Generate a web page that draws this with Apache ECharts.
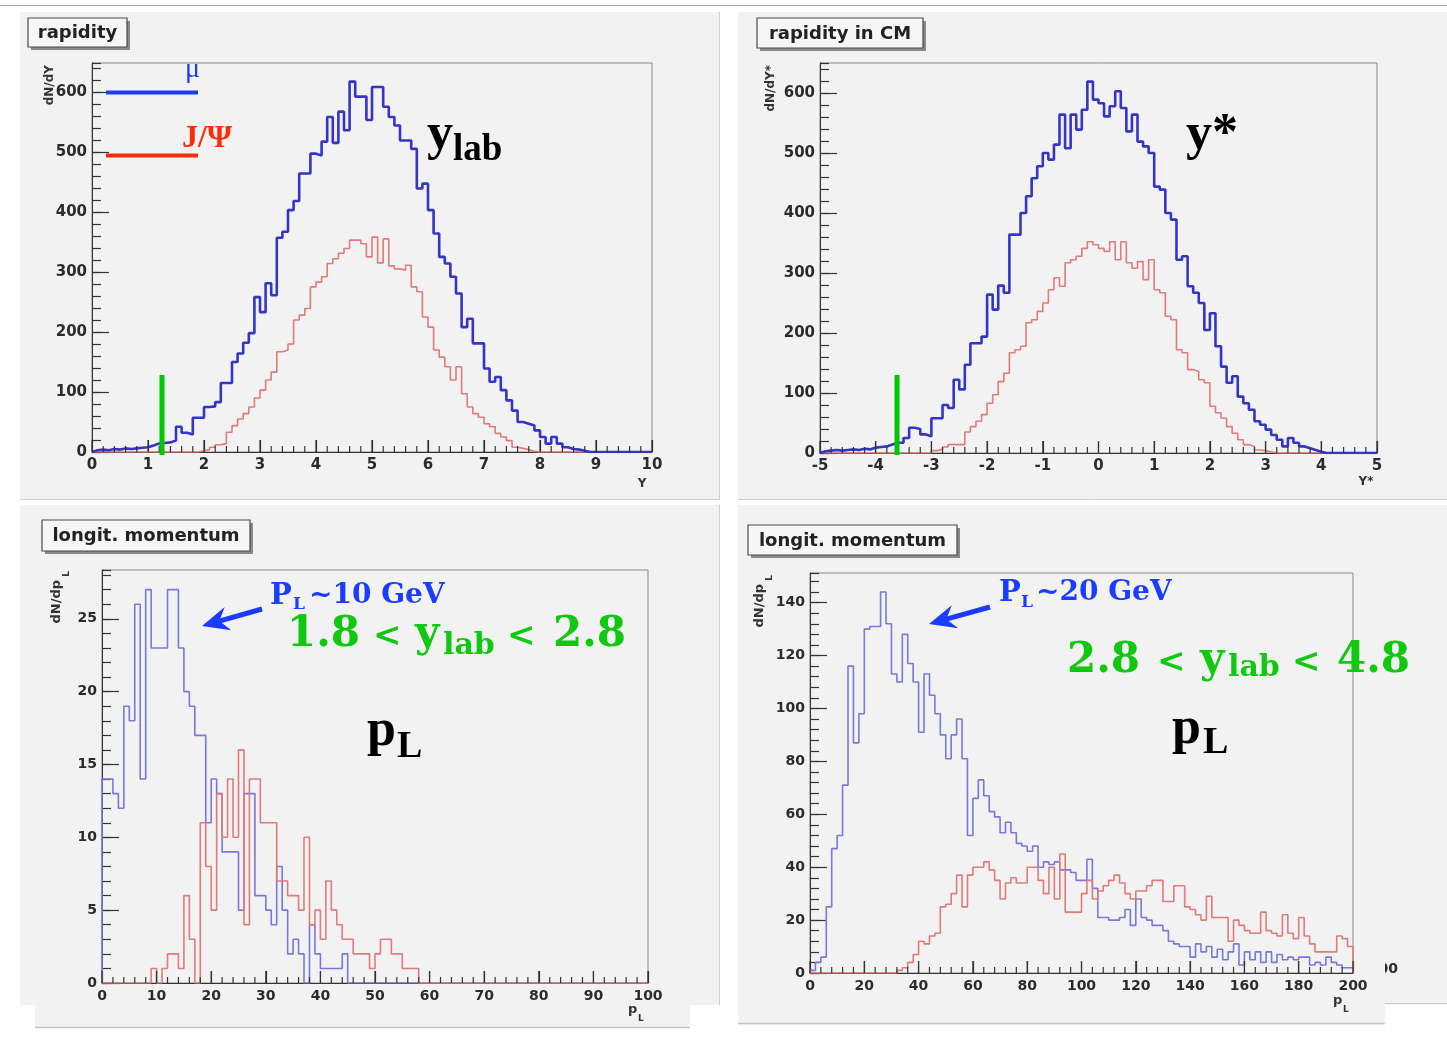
<!DOCTYPE html>
<html><head><meta charset="utf-8">
<script src="https://cdn.jsdelivr.net/npm/echarts@6/dist/echarts.min.js"></script>
<style>html,body{margin:0;padding:0;background:#fff;}#c{width:1447px;height:1041px;}</style>
</head><body><div id="c"></div>
<script>
// ---------------- DATA (bin contents) ----------------
// rapidity in lab, 100 bins of 0.1 from 0 to 10
const ylabBinStart = 0, ylabBinWidth = 0.1;
const ylabMu = [3,4,3,5,4,6,5,6,7,8, 11,14,15,16,19,42,32,29,57,57, 75,76,83,115,115,150,164,182,198,258,
  233,281,261,357,367,403,418,464,464,497, 494,517,558,515,567,536,617,592,592,553,
  608,608,575,558,544,519,519,505,439,447, 403,364,325,314,292,264,208,222,181,181,
  139,117,125,103,86,69,50,47,44,36, 25,14,25,14,8,5,4,2,0,0, 0,0,0,0,0,0,0,0,0,0];
const ylabJpsi = [0,0,0,0,0,0,0,0,0,0, 0,0,0,0,0,0,0,0,0,2, 4,8,12,14,33,44,55,64,75,90,
  103,120,133,167,170,180,220,228,239,275, 283,292,314,322,331,339,353,353,347,325,
  358,315,355,310,305,303,311,275,267,225, 208,170,158,142,120,142,97,75,64,58,
  47,42,31,25,19,8,6,4,1,0, 0,0,0,0,0,0,0,0,0,0, 0,0,0,0,0,0,0,0,0,0];
// rapidity in CM, 100 bins of 0.1 from -5 to 5
const ycmBinStart = -5, ycmBinWidth = 0.1;
const ycmMu = [3,4,5,4,5,6,5,7,6,9, 10,11,14,17,17,25,42,40,31,28, 58,58,80,75,122,106,147,183,183,194,
  264,239,279,267,364,364,400,428,458,478, 500,489,514,564,508,564,539,572,619,589,
  583,561,578,603,575,536,564,519,511,500, 444,439,400,389,322,328,278,267,250,205,
  233,178,144,117,128,94,83,72,53,47, 39,30,22,11,25,17,11,8,5,2, 0,0,0,0,0,0,0,0,0,0];
const ycmJpsi = [0,0,0,0,0,0,0,0,0,0, 0,0,0,0,0,0,0,0,0,0, 4,6,10,14,14,14,35,44,53,64,
  83,97,119,133,167,172,178,217,222,236, 250,272,292,278,317,322,328,341,352,347,
  341,336,352,322,352,317,308,319,289,322, 272,267,228,222,172,167,139,136,122,117,
  78,67,58,44,33,22,14,11,5,4, 2,0,0,0,0,0,0,0,0,0, 0,0,0,0,0,0,0,0,0,0];
// longitudinal momentum, 1.8 < ylab < 2.8 : 100 bins of 1 from 0 to 100
const pl1BinStart = 0, pl1BinWidth = 1;
const pl1Mu = [14,14,13,12,19,18,26,14,27,23, 23,23,27,27,23,20,19,17,17,11, 14,13,9,9,9,5,13,13,6,6,
  5,4,8,5,2,3,2,0,4,2, 1,1,1,1,2,0,0,0,0,0, 0,0,0,0,0,0,0,0,0,0,
  0,0,0,0,0,0,0,0,0,0, 0,0,0,0,0,0,0,0,0,0, 0,0,0,0,0,0,0,0,0,0, 0,0,0,0,0,0,0,0,0,0];
const pl1Jpsi = [0,0,0,0,0,0,0,0,0,1, 0,1,2,2,1,6,3,0,11,8, 5,13,10,14,10,16,4,14,14,11,
  11,11,7,7,6,6,5,10,4,5, 3,7,5,4,3,3,2,2,2,1, 2,3,3,2,2,1,1,1,0,0,
  0,0,0,0,0,0,0,0,0,0, 0,0,0,0,0,0,0,0,0,0, 0,0,0,0,0,0,0,0,0,0, 0,0,0,0,0,0,0,0,0,0];
// longitudinal momentum, 2.8 < ylab < 4.8 : 100 bins of 2 from 0 to 200
const pl2BinStart = 0, pl2BinWidth = 2;
const pl2Mu = [1,4,6,25,47,52,71,116,87,98, 130,131,131,144,132,113,110,128,117,110,
  91,113,105,98,90,81,90,96,81,52, 66,73,67,61,59,53,57,53,49,48,
  46,48,40,42,41,42,39,39,38,35, 35,43,32,21,21,20,20,21,24,18,
  28,21,20,18,18,16,12,11,10,10, 6,11,8,10,6,9,5,8,11,3,
  8,5,8,4,8,4,7,5,6,5, 6,6,3,4,3,6,4,3,2,2];
const pl2Jpsi = [0,0,0,0,0,0,0,0,0,0, 0,0,0,0,0,0,1,2,4,7, 12,11,14,15,25,26,30,37,25,37,
  40,40,42,39,35,28,34,36,34,34, 40,40,35,30,40,28,45,23,23,23,
  30,35,28,31,33,35,37,34,30,28, 31,31,33,35,35,27,27,33,33,25,
  24,22,20,29,21,21,21,12,20,18, 16,15,15,23,16,15,14,22,15,13,
  21,14,11,8,8,8,8,14,13,10];

// panel titles
const panelTitles = ['rapidity', 'rapidity in CM', 'longit. momentum', 'longit. momentum'];

// ---------------- helpers ----------------
const SERIF = '"Liberation Serif", "Times New Roman", serif';
const DSERIF = '"DejaVu Serif", serif';
const SANS = '"DejaVu Sans", sans-serif';
const AX = '#333';
const RED = '#e27a7a', BLUE_D = '#3434c8', BLUE_L = '#7878dc';
const BLUE_T = '#1a3cff', GREEN_T = '#10c810', RED_T = '#ff2a0a';

function hist(vals, start, width) {
  const d = [[start, 0]];
  for (let i = 0; i < vals.length; i++) d.push([start + i * width, vals[i]]);
  const end = start + vals.length * width;
  d.push([end, vals[vals.length - 1]]);
  d.push([end, 0]);
  return d;
}
function xMajor(g, min, max, interval, fs) {
  return {type:'value', gridIndex:g, min, max, interval, z:20, position:'bottom',
    axisLine:{show:true, onZero:false, lineStyle:{color:AX, width:1}},
    axisTick:{show:true, inside:true, length:12, lineStyle:{color:'#333', width:1.2}},
    axisLabel:{show:true, margin:6, color:'#2b2b2b', fontFamily:SANS, fontWeight:'bold', fontSize:fs, showMinLabel:true, showMaxLabel:true},
    splitLine:{show:false}};
}
function yMajor(g, max, interval, fs) {
  return {type:'value', gridIndex:g, min:0, max, interval, z:20, position:'left',
    axisLine:{show:true, onZero:false, lineStyle:{color:AX, width:1}},
    axisTick:{show:true, inside:true, length:17, lineStyle:{color:'#333', width:1.2}},
    axisLabel:{show:true, margin:5, color:'#2b2b2b', fontFamily:SANS, fontWeight:'bold', fontSize:fs, showMaxLabel:false,
      formatter: v => (Math.abs(v / interval - Math.round(v / interval)) < 1e-6 ? String(Math.round(v)) : '')},
    splitLine:{show:false}};
}
function yMinor(g, max, interval) {
  return {type:'value', gridIndex:g, min:0, max, interval, z:20, position:'left', offset:0,
    axisLine:{show:false, onZero:false},
    axisTick:{show:true, inside:true, length:9, lineStyle:{color:'#333', width:1.2}},
    axisLabel:{show:false}, splitLine:{show:false}};
}
// x-axis tick marks (major + minor) placed through the axis scale by a custom series
function xTickSeries(xi, yi, min, max, interval, sub) {
  const data = [];
  const n = Math.round((max - min) / interval) * sub;
  for (let i = 0; i <= n; i++) data.push([min + i * interval / sub, i % sub === 0 ? 1 : 0]);
  return {type:'custom', xAxisIndex:xi, yAxisIndex:yi, silent:true, clip:false, z:40, data,
    renderItem: (params, api) => {
      const p = api.coord([api.value(0), 0]);
      const len = api.value(1) ? 12 : 6;
      return {type:'line', shape:{x1:p[0], y1:p[1], x2:p[0], y2:p[1] - len}, style:{stroke:'#333', lineWidth:1.2}};
    }};
}
function ser(xi, yi, vals, start, width, color, lw, z) {
  return {type:'line', xAxisIndex:xi, yAxisIndex:yi, step:'end', data:hist(vals, start, width),
    symbol:'none', silent:true, clip:true, z, lineStyle:{color, width:lw}};
}
function rect(x, y, w, h, fill, z, stroke, lw) {
  return {type:'rect', z, silent:true, shape:{x, y, width:w, height:h},
    style:{fill, stroke: stroke || null, lineWidth: lw || 0}};
}
function line(x1, y1, x2, y2, stroke, lw, z) {
  return {type:'line', z, silent:true, shape:{x1, y1, x2, y2}, style:{stroke, lineWidth:lw}};
}
function txt(text, x, y, font, fill, align, z, rot, va) {
  return {type:'text', z, silent:true, x, y, rotation: rot || 0,
    style:{text, font, fill, align: align || 'left', verticalAlign: va || 'middle'}};
}
function titleBox(label, x, y, w, h) {
  return [
    rect(x + 3, y + 3, w, h, '#8a8a8a', 25),
    rect(x, y, w, h, '#f6f6f6', 26, '#4a4a4a', 1.2),
    txt(label, x + w / 2, y + h / 2 + 1, 'bold 18px ' + SANS, '#222', 'center', 27)
  ];
}
function arrow(tail, tip, z) {
  const dx = tip[0] - tail[0], dy = tip[1] - tail[1], L = Math.hypot(dx, dy);
  const ux = dx / L, uy = dy / L, px = -uy, py = ux;
  const hl = 27, hw = 12, notch = 9;
  const bx = tip[0] - ux * hl, by = tip[1] - uy * hl;
  const ix = tip[0] - ux * (hl - notch), iy = tip[1] - uy * (hl - notch);
  return [
    line(tail[0], tail[1], ix, iy, BLUE_T, 5, z),
    {type:'polygon', z, silent:true, shape:{points:[tip, [bx + px * hw, by + py * hw], [ix, iy], [bx - px * hw, by - py * hw]]}, style:{fill:BLUE_T}}
  ];
}

// ---------------- graphics ----------------
const PANEL = '#f2f2f2';
const g = [];
g.push(line(0, 5.5, 1447, 5.5, '#a8a8a8', 1, 1));
// panels
g.push(rect(20, 12, 700, 488, PANEL, 1));
g.push(line(719.5, 12, 719.5, 500, '#cfcfcf', 1, 2), line(20, 499.5, 720, 499.5, '#cfcfcf', 1, 2));
g.push(rect(738, 12, 709, 488, PANEL, 1));
g.push(line(738, 499.5, 1447, 499.5, '#cfcfcf', 1, 2));
g.push(rect(20, 505, 700, 500, PANEL, 1));
g.push(line(719.5, 505, 719.5, 1005, '#cfcfcf', 1, 2));
g.push(rect(35, 514, 655, 514, PANEL, 3));
g.push(line(35, 1027.5, 690, 1027.5, '#c4c4c4', 1.5, 3));
g.push(rect(738, 505, 709, 500, PANEL, 1));
g.push(line(738, 1003.5, 1447, 1003.5, '#cfcfcf', 1, 2));
g.push(txt('200', 1398, 969, 'bold 14px ' + SANS, '#2b2b2b', 'right', 2));
g.push(rect(738, 520, 647, 505, PANEL, 3));
g.push(line(738, 1023.5, 1385, 1023.5, '#c4c4c4', 1.5, 3));
// title boxes
g.push(...titleBox(panelTitles[0], 28, 18, 99, 29));
g.push(...titleBox(panelTitles[1], 757, 18, 166, 30));
g.push(...titleBox(panelTitles[2], 42, 520, 208, 31));
g.push(...titleBox(panelTitles[3], 748, 525, 209, 30));
// axis titles
const R90 = Math.PI / 2;
g.push(txt('dN/dY', 44, 65, 'bold 12px ' + SANS, '#333', 'right', 28, R90, 'top'));
g.push(txt('dN/dY*', 765, 65, 'bold 12px ' + SANS, '#333', 'right', 28, R90, 'top'));
g.push(txt('dN/dp', 50, 580, 'bold 13px ' + SANS, '#333', 'right', 28, R90, 'top'));
g.push(txt('L', 62, 571, 'bold 9px ' + SANS, '#333', 'right', 28, R90, 'top'));
g.push(txt('dN/dp', 753, 584, 'bold 13px ' + SANS, '#333', 'right', 28, R90, 'top'));
g.push(txt('L', 765, 575, 'bold 9px ' + SANS, '#333', 'right', 28, R90, 'top'));
g.push(txt('Y', 642, 484, 'bold 12px ' + SANS, '#333', 'center', 28));
g.push(txt('Y*', 1366, 482, 'bold 12px ' + SANS, '#333', 'center', 28));
g.push(txt('p', 628, 1010, 'bold 13px ' + SANS, '#333', 'left', 28));
g.push(txt('L', 638, 1019, 'bold 9px ' + SANS, '#333', 'left', 28));
g.push(txt('p', 1333, 1001, 'bold 13px ' + SANS, '#333', 'left', 28));
g.push(txt('L', 1343, 1010, 'bold 9px ' + SANS, '#333', 'left', 28));
// top-left annotations (legend)
g.push(line(106, 92.5, 198, 92.5, BLUE_T, 4, 40));
g.push(line(106, 155.5, 198, 155.5, RED_T, 4, 40));
g.push(txt('μ', 185, 70, '28px ' + SERIF, BLUE_T, 'left', 40));
g.push(txt('J/Ψ', 182, 139, 'bold 32px ' + SERIF, RED_T, 'left', 40));
g.push(line(162, 375, 162, 455, '#00c800', 5, 45));
g.push(line(897, 375, 897, 455, '#00c800', 5, 45));
g.push(txt('y', 427, 136, 'bold 52px ' + SERIF, '#000', 'left', 40));
g.push(txt('lab', 453, 150, 'bold 37px ' + SERIF, '#000', 'left', 40));
g.push(txt('y*', 1186, 136, 'bold 52px ' + SERIF, '#000', 'left', 40));
// bottom-left annotations
g.push(...arrow([262, 609], [202, 626], 40));
g.push(txt('P', 270, 596, 'bold 29px ' + DSERIF, BLUE_T, 'left', 40));
g.push(txt('L', 293, 605, 'bold 17px ' + DSERIF, BLUE_T, 'left', 40));
g.push(txt('~10 GeV', 309, 596, 'bold 28px ' + DSERIF, BLUE_T, 'left', 40));
g.push(txt('1.8', 287, 635, 'bold 42px ' + DSERIF, GREEN_T, 'left', 40));
g.push(txt('<', 373, 637, 'bold 34px ' + DSERIF, GREEN_T, 'left', 40));
g.push(txt('y', 415, 635, 'bold 42px ' + DSERIF, GREEN_T, 'left', 40));
g.push(txt('lab', 443, 646, 'bold 30px ' + DSERIF, GREEN_T, 'left', 40));
g.push(txt('<', 507, 637, 'bold 34px ' + DSERIF, GREEN_T, 'left', 40));
g.push(txt('2.8', 553, 635, 'bold 42px ' + DSERIF, GREEN_T, 'left', 40));
g.push(txt('p', 367, 732, 'bold 52px ' + SERIF, '#000', 'left', 40));
g.push(txt('L', 397, 747, 'bold 38px ' + SERIF, '#000', 'left', 40));
// bottom-right annotations
g.push(...arrow([990, 607], [929, 624], 40));
g.push(txt('P', 999, 593, 'bold 29px ' + DSERIF, BLUE_T, 'left', 40));
g.push(txt('L', 1021, 603, 'bold 17px ' + DSERIF, BLUE_T, 'left', 40));
g.push(txt('~20 GeV', 1036, 593, 'bold 28px ' + DSERIF, BLUE_T, 'left', 40));
g.push(txt('2.8', 1067, 661, 'bold 42px ' + DSERIF, GREEN_T, 'left', 40));
g.push(txt('<', 1157, 663, 'bold 34px ' + DSERIF, GREEN_T, 'left', 40));
g.push(txt('y', 1200, 661, 'bold 42px ' + DSERIF, GREEN_T, 'left', 40));
g.push(txt('lab', 1228, 668, 'bold 30px ' + DSERIF, GREEN_T, 'left', 40));
g.push(txt('<', 1292, 663, 'bold 34px ' + DSERIF, GREEN_T, 'left', 40));
g.push(txt('4.8', 1337, 661, 'bold 42px ' + DSERIF, GREEN_T, 'left', 40));
g.push(txt('p', 1172, 730, 'bold 52px ' + SERIF, '#000', 'left', 40));
g.push(txt('L', 1203, 743, 'bold 38px ' + SERIF, '#000', 'left', 40));

const gridStyle = {show:true, z:15, borderColor:'#888', borderWidth:1, backgroundColor:'transparent', containLabel:false};
const option = {
  animation:false,
  backgroundColor:'#ffffff',
  grid:[
    Object.assign({left:92, top:63, width:560, height:389}, gridStyle),
    Object.assign({left:820, top:63, width:557, height:390}, gridStyle),
    Object.assign({left:102, top:570, width:546, height:413}, gridStyle),
    Object.assign({left:810, top:573, width:543, height:400}, gridStyle)
  ],
  xAxis:[
    xMajor(0, 0, 10, 1, 15),
    xMajor(1, -5, 5, 1, 15),
    xMajor(2, 0, 100, 10, 14),
    xMajor(3, 0, 200, 20, 14)
  ],
  yAxis:[
    yMajor(0, 648, 100, 15), yMinor(0, 648, 20),
    yMajor(1, 650, 100, 15), yMinor(1, 650, 20),
    yMajor(2, 28.35, 5, 14), yMinor(2, 28.35, 1),
    yMajor(3, 151.2, 20, 14), yMinor(3, 151.2, 4)
  ],
  series:[
    ser(0, 0, ylabJpsi, ylabBinStart, ylabBinWidth, RED, 1.6, 30),
    ser(0, 0, ylabMu, ylabBinStart, ylabBinWidth, BLUE_D, 2.6, 31),
    ser(1, 2, ycmJpsi, ycmBinStart, ycmBinWidth, RED, 1.6, 30),
    ser(1, 2, ycmMu, ycmBinStart, ycmBinWidth, BLUE_D, 2.6, 31),
    ser(2, 4, pl1Mu, pl1BinStart, pl1BinWidth, BLUE_L, 1.6, 30),
    ser(2, 4, pl1Jpsi, pl1BinStart, pl1BinWidth, RED, 1.6, 31),
    ser(3, 6, pl2Mu, pl2BinStart, pl2BinWidth, BLUE_L, 1.6, 30),
    ser(3, 6, pl2Jpsi, pl2BinStart, pl2BinWidth, RED, 1.6, 31),
    xTickSeries(0, 0, 0, 10, 1, 5),
    xTickSeries(1, 2, -5, 5, 1, 5),
    xTickSeries(2, 4, 0, 100, 10, 5),
    xTickSeries(3, 6, 0, 200, 20, 5)
  ],
  graphic:{elements:g}
};
const chart = echarts.init(document.getElementById('c'), null, {renderer:'canvas'});
chart.setOption(option);
</script></body></html>
